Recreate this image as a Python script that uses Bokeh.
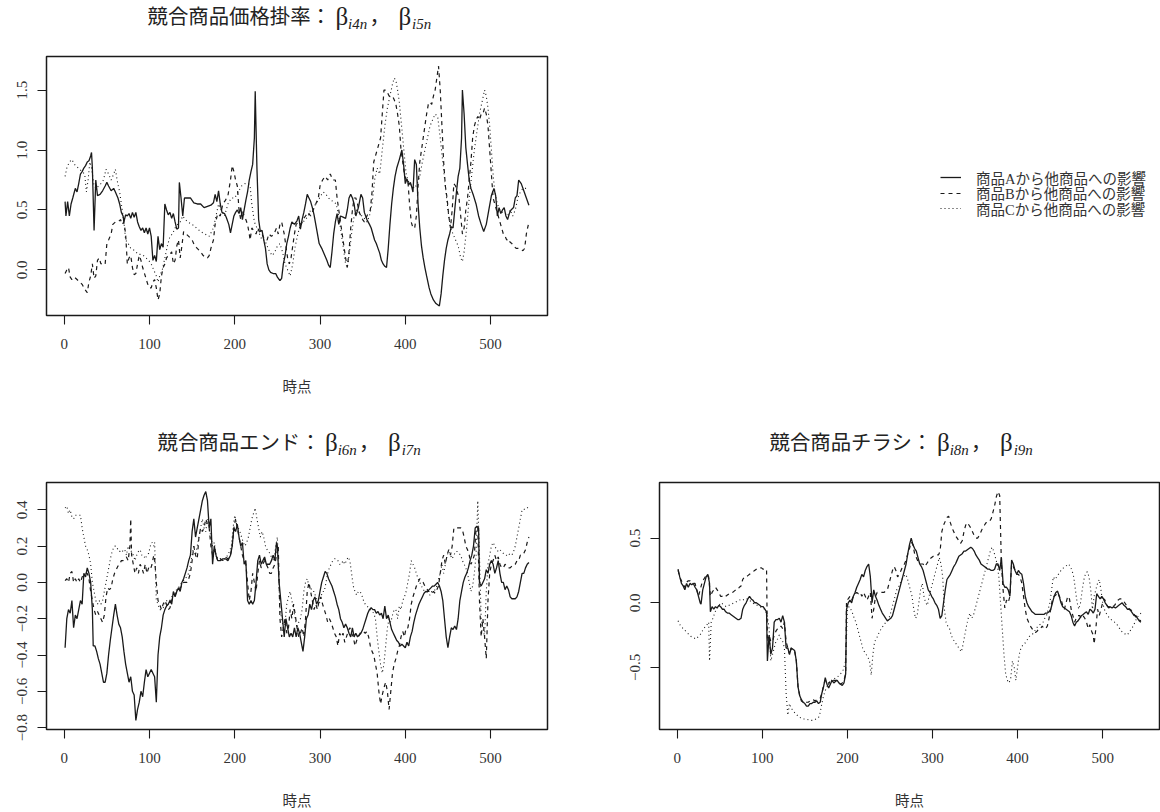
from bokeh.plotting import figure
from bokeh.models import Range1d, FixedTicker, CustomJSTickFormatter, Label, Legend, LegendItem
from bokeh.layouts import column, row
from bokeh.embed import file_html
from bokeh.resources import INLINE

# ---------------- data (time point, value) ----------------
X_TICKS = [0, 100, 200, 300, 400, 500]
PRICE_TICKS = [0.0, 0.5, 1.0, 1.5]
END_TICKS = [-0.8, -0.6, -0.4, -0.2, 0.0, 0.2, 0.4]
FLYER_TICKS = [-0.5, 0.0, 0.5]

TITLE_PRICE = ("競合商品価格掛率：", "i4n", "i5n")
TITLE_END = ("競合商品エンド：", "i6n", "i7n")
TITLE_FLYER = ("競合商品チラシ：", "i8n", "i9n")
X_LABEL = "時点"
LEGEND_LABELS = ["商品Aから他商品への影響", "商品Bから他商品への影響", "商品Cから他商品への影響"]

price_A = [(1,0.57),(2,0.45),(4,0.57),(6,0.45),(8,0.55),(10,0.6),(13,0.68),(15,0.65),(17,0.72),(19,0.8),(21,0.82),(23,0.85),(25,0.87),(27,0.9),(29,0.91),(31,0.95),(32,0.98),(33,0.85),(35,0.33),(37,0.75),(39,0.62),(42,0.63),(45,0.66),(48,0.7),(50,0.73),(52,0.7),(55,0.66),(58,0.68),(60,0.65),(63,0.6),(65,0.55),(67,0.48),(69,0.45),(70,0.4),(72,0.46),(74,0.45),(76,0.47),(78,0.43),(80,0.48),(82,0.44),(84,0.48),(86,0.4),(88,0.36),(90,0.33),(92,0.35),(94,0.31),(96,0.35),(98,0.3),(100,0.35),(102,0.28),(104,0.08),(106,0.12),(108,0.07),(110,0.28),(112,0.17),(114,0.22),(116,0.19),(118,0.55),(120,0.5),(122,0.46),(124,0.48),(126,0.43),(128,0.47),(130,0.4),(132,0.34),(134,0.35),(135,0.73),(137,0.6),(139,0.45),(141,0.6),(144,0.6),(148,0.6),(152,0.56),(156,0.55),(160,0.55),(164,0.52),(168,0.53),(172,0.54),(175,0.56),(177,0.63),(179,0.57),(181,0.66),(183,0.55),(185,0.48),(188,0.47),(190,0.44),(193,0.38),(195,0.31),(197,0.38),(199,0.45),(201,0.48),(203,0.5),(205,0.47),(207,0.52),(209,0.42),(211,0.5),(213,0.58),(215,0.65),(217,0.75),(219,0.82),(221,0.88),(223,1.1),(224,1.49),(226,0.85),(228,0.42),(230,0.32),(232,0.33),(234,0.25),(236,0.18),(238,0.05),(240,0.0),(242,-0.02),(245,-0.03),(248,-0.03),(250,-0.06),(253,-0.09),(255,-0.07),(257,0.05),(259,0.12),(261,0.22),(263,0.28),(265,0.35),(267,0.4),(270,0.38),(273,0.41),(275,0.45),(277,0.34),(279,0.42),(281,0.48),(283,0.55),(285,0.63),(287,0.6),(289,0.57),(291,0.52),(293,0.46),(295,0.38),(297,0.3),(299,0.22),(302,0.18),(305,0.13),(308,0.08),(310,0.04),(312,0.02),(314,0.15),(316,0.3),(318,0.4),(320,0.47),(322,0.38),(324,0.45),(327,0.44),(330,0.43),(332,0.5),(334,0.6),(336,0.63),(338,0.6),(340,0.55),(342,0.45),(345,0.52),(348,0.63),(350,0.6),(352,0.48),(355,0.42),(358,0.38),(360,0.35),(362,0.3),(364,0.25),(366,0.22),(368,0.18),(370,0.14),(372,0.08),(374,0.05),(376,0.03),(378,0.02),(380,0.18),(382,0.38),(384,0.55),(386,0.68),(388,0.78),(390,0.85),(393,0.92),(396,1.0),(398,0.88),(400,0.72),(402,0.76),(404,0.71),(406,0.73),(408,0.68),(409,0.65),(411,0.92),(413,0.88),(415,0.55),(417,0.35),(419,0.2),(421,0.1),(423,0.02),(425,-0.05),(428,-0.15),(430,-0.2),(433,-0.25),(436,-0.28),(438,-0.29),(440,-0.3),(442,-0.2),(444,-0.05),(446,0.08),(448,0.18),(450,0.25),(452,0.3),(454,0.36),(456,0.35),(458,0.5),(460,0.65),(462,0.78),(464,0.85),(466,1.1),(467,1.5),(469,1.3),(471,1.02),(473,0.88),(475,0.75),(477,0.68),(480,0.62),(483,0.55),(486,0.45),(489,0.38),(492,0.32),(495,0.38),(498,0.5),(501,0.62),(504,0.68),(506,0.62),(508,0.45),(510,0.52),(512,0.47),(514,0.5),(516,0.52),(518,0.45),(520,0.42),(522,0.47),(524,0.5),(527,0.52),(529,0.6),(531,0.62),(533,0.75),(536,0.72),(539,0.66),(542,0.6),(545,0.54)]

price_B = [(1,-0.03),(3,0.0),(5,0.02),(7,-0.06),(9,-0.08),(12,-0.06),(15,-0.08),(18,-0.1),(21,-0.12),(24,-0.16),(27,-0.19),(29,-0.1),(31,-0.05),(33,0.05),(35,-0.07),(37,-0.05),(39,0.08),(41,0.1),(43,0.05),(46,0.06),(48,0.05),(50,0.22),(52,0.25),(55,0.3),(57,0.38),(60,0.4),(63,0.4),(66,0.42),(68,0.38),(70,0.4),(72,0.3),(74,0.05),(76,0.1),(78,0.12),(80,0.02),(82,-0.04),(84,-0.03),(86,0.05),(88,0.12),(90,0.08),(92,0.02),(95,-0.05),(98,-0.12),(100,-0.15),(102,-0.15),(104,-0.1),(106,-0.08),(108,-0.15),(110,-0.25),(112,-0.2),(114,-0.05),(116,0.02),(118,0.05),(120,0.1),(122,0.12),(124,0.13),(126,0.15),(128,0.05),(130,0.08),(132,0.2),(134,0.25),(136,0.1),(138,0.2),(140,0.32),(143,0.3),(146,0.28),(150,0.25),(153,0.2),(156,0.18),(160,0.15),(163,0.12),(166,0.1),(168,0.1),(170,0.12),(172,0.18),(175,0.25),(177,0.38),(180,0.47),(183,0.45),(186,0.55),(189,0.58),(192,0.62),(195,0.75),(197,0.87),(199,0.82),(201,0.75),(203,0.7),(205,0.5),(207,0.42),(209,0.5),(211,0.45),(213,0.42),(215,0.38),(217,0.3),(218,0.25),(220,0.35),(222,0.33),(225,0.3),(227,0.35),(230,0.3),(232,0.3),(235,0.25),(238,0.25),(240,0.3),(243,0.28),(246,0.3),(249,0.35),(251,0.3),(253,0.38),(255,0.4),(258,0.3),(260,0.2),(262,0.1),(264,0.05),(266,0.1),(268,0.2),(270,0.3),(272,0.38),(275,0.4),(278,0.38),(280,0.42),(283,0.45),(286,0.48),(289,0.45),(292,0.5),(295,0.55),(298,0.6),(300,0.7),(303,0.75),(306,0.78),(309,0.75),(312,0.8),(315,0.75),(318,0.75),(320,0.6),(322,0.5),(324,0.4),(326,0.3),(328,0.2),(330,0.1),(332,0.02),(334,0.15),(336,0.35),(338,0.5),(340,0.6),(342,0.6),(344,0.55),(346,0.48),(348,0.45),(350,0.42),(352,0.4),(355,0.45),(357,0.48),(359,0.5),(361,0.65),(363,0.9),(365,0.95),(367,1.0),(369,1.05),(371,1.1),(373,1.3),(375,1.5),(377,1.5),(379,1.48),(381,1.45),(383,1.45),(385,1.45),(387,1.42),(389,1.38),(391,1.3),(393,1.2),(395,1.0),(397,0.9),(399,0.8),(401,0.75),(403,0.75),(405,0.55),(407,0.4),(409,0.35),(411,0.35),(413,0.45),(415,0.7),(417,0.9),(419,1.0),(421,1.1),(423,1.2),(425,1.3),(427,1.38),(429,1.4),(431,1.38),(433,1.45),(435,1.5),(437,1.6),(439,1.7),(441,1.5),(443,1.2),(445,0.9),(447,0.7),(449,0.6),(451,0.45),(453,0.35),(455,0.5),(457,0.72),(459,0.7),(461,0.65),(463,0.6),(465,0.45),(467,0.3),(469,0.35),(471,0.5),(473,0.6),(475,0.75),(477,0.9),(479,1.1),(481,1.2),(483,1.25),(485,1.28),(487,1.25),(489,1.3),(491,1.3),(493,1.35),(495,1.3),(497,1.2),(499,1.0),(501,0.8),(503,0.6),(505,0.55),(507,0.5),(509,0.45),(511,0.4),(513,0.35),(515,0.3),(517,0.28),(519,0.25),(521,0.26),(523,0.23),(525,0.22),(527,0.2),(530,0.18),(533,0.18),(536,0.17),(538,0.16),(540,0.18),(542,0.3),(545,0.4)]

price_C = [(1,0.78),(3,0.85),(6,0.9),(9,0.92),(12,0.88),(15,0.86),(18,0.84),(21,0.82),(24,0.8),(26,0.65),(28,0.75),(30,0.9),(32,0.85),(35,0.7),(38,0.68),(40,0.7),(43,0.72),(46,0.75),(49,0.84),(52,0.8),(55,0.75),(58,0.8),(60,0.84),(62,0.75),(65,0.65),(68,0.5),(70,0.4),(72,0.25),(75,0.22),(78,0.18),(81,0.17),(84,0.15),(87,0.13),(90,0.13),(93,0.12),(96,0.1),(99,0.08),(102,0.05),(105,0.0),(108,-0.05),(110,-0.1),(112,-0.05),(115,0.0),(118,0.1),(121,0.2),(124,0.28),(127,0.3),(130,0.35),(133,0.38),(136,0.4),(139,0.45),(142,0.42),(145,0.4),(150,0.38),(155,0.35),(160,0.32),(165,0.3),(170,0.28),(175,0.35),(178,0.45),(181,0.55),(184,0.5),(188,0.45),(192,0.55),(196,0.6),(200,0.6),(204,0.65),(208,0.7),(212,0.72),(216,0.72),(218,0.7),(220,0.55),(223,0.4),(226,0.35),(229,0.3),(232,0.25),(235,0.25),(238,0.2),(241,0.15),(244,0.12),(247,0.15),(250,0.2),(253,0.22),(256,0.15),(259,0.05),(262,0.0),(265,-0.05),(268,0.05),(271,0.2),(274,0.3),(277,0.38),(280,0.4),(283,0.42),(286,0.45),(289,0.5),(292,0.52),(295,0.55),(298,0.58),(301,0.62),(304,0.65),(307,0.63),(310,0.6),(313,0.58),(316,0.57),(319,0.55),(322,0.45),(325,0.3),(328,0.15),(330,0.05),(332,0.02),(334,0.12),(337,0.3),(340,0.45),(343,0.5),(346,0.48),(349,0.45),(352,0.43),(355,0.4),(358,0.45),(361,0.55),(364,0.75),(367,0.85),(370,0.8),(373,1.0),(376,1.2),(379,1.35),(382,1.45),(385,1.55),(387,1.6),(389,1.58),(391,1.5),(393,1.4),(395,1.25),(397,1.1),(399,0.95),(401,0.8),(403,0.75),(405,0.72),(408,0.7),(411,0.68),(414,0.72),(417,0.78),(420,0.9),(423,1.0),(426,1.1),(429,1.2),(432,1.25),(435,1.3),(438,1.28),(441,1.1),(444,0.9),(447,0.7),(450,0.5),(453,0.35),(456,0.3),(459,0.25),(462,0.2),(465,0.1),(467,0.07),(469,0.15),(472,0.35),(475,0.6),(478,0.8),(481,1.0),(484,1.15),(487,1.3),(490,1.4),(493,1.5),(495,1.45),(497,1.35),(499,1.2),(501,1.0),(503,0.8),(505,0.65),(508,0.55),(511,0.5),(514,0.48),(517,0.47),(520,0.45),(523,0.5),(526,0.45),(529,0.5),(532,0.6),(535,0.65),(538,0.68),(541,0.68),(545,0.68)]

end_A = [(1,-0.36),(3,-0.2),(5,-0.15),(7,-0.17),(9,-0.1),(11,-0.25),(13,-0.18),(15,-0.2),(17,-0.15),(19,-0.1),(21,-0.12),(23,0.05),(25,0.03),(27,0.08),(29,0.05),(31,0.0),(33,-0.15),(34,-0.35),(36,-0.35),(38,-0.38),(40,-0.42),(42,-0.45),(44,-0.5),(46,-0.55),(48,-0.55),(50,-0.5),(52,-0.4),(54,-0.32),(56,-0.25),(58,-0.18),(60,-0.12),(62,-0.18),(64,-0.23),(66,-0.25),(68,-0.3),(70,-0.38),(72,-0.45),(74,-0.5),(76,-0.55),(78,-0.52),(80,-0.6),(82,-0.62),(84,-0.76),(86,-0.7),(88,-0.66),(90,-0.6),(92,-0.63),(94,-0.55),(96,-0.48),(98,-0.52),(100,-0.5),(102,-0.48),(104,-0.5),(106,-0.52),(108,-0.66),(110,-0.4),(112,-0.3),(114,-0.25),(116,-0.18),(118,-0.15),(120,-0.13),(122,-0.12),(124,-0.1),(126,-0.12),(128,-0.05),(130,-0.08),(132,-0.05),(134,-0.03),(136,-0.05),(138,0.0),(140,0.02),(142,0.05),(144,0.08),(146,0.12),(148,0.15),(150,0.28),(152,0.35),(154,0.25),(156,0.3),(158,0.35),(160,0.4),(162,0.45),(164,0.48),(166,0.5),(168,0.45),(170,0.3),(172,0.35),(174,0.1),(176,0.2),(178,0.15),(180,0.12),(183,0.12),(186,0.13),(189,0.13),(192,0.12),(195,0.15),(197,0.2),(199,0.3),(201,0.28),(203,0.32),(205,0.25),(207,0.2),(209,0.22),(211,0.1),(213,0.12),(215,-0.1),(217,-0.12),(219,-0.1),(221,-0.12),(223,-0.1),(225,0.0),(227,0.12),(229,0.15),(231,0.1),(233,0.12),(235,0.14),(237,0.1),(239,0.1),(241,0.1),(243,0.12),(245,0.15),(247,0.12),(249,0.22),(250,0.2),(252,0.0),(254,-0.1),(256,-0.2),(258,-0.3),(260,-0.2),(262,-0.25),(264,-0.3),(266,-0.28),(268,-0.3),(270,-0.25),(272,-0.3),(274,-0.25),(276,-0.28),(278,-0.33),(280,-0.38),(282,-0.3),(284,-0.2),(286,-0.18),(288,-0.12),(290,-0.15),(292,-0.1),(294,-0.08),(296,-0.12),(298,-0.1),(300,-0.05),(302,0.0),(304,0.03),(306,0.06),(308,0.05),(310,0.02),(312,0.0),(314,-0.02),(316,-0.05),(318,-0.08),(320,-0.12),(322,-0.15),(324,-0.2),(326,-0.22),(328,-0.25),(330,-0.23),(332,-0.25),(334,-0.28),(336,-0.3),(338,-0.25),(340,-0.3),(342,-0.28),(344,-0.3),(346,-0.29),(348,-0.28),(350,-0.26),(352,-0.23),(354,-0.2),(356,-0.17),(358,-0.15),(360,-0.14),(362,-0.15),(364,-0.15),(366,-0.17),(368,-0.16),(370,-0.18),(372,-0.17),(374,-0.2),(376,-0.13),(378,-0.2),(380,-0.18),(382,-0.22),(384,-0.26),(386,-0.28),(388,-0.3),(390,-0.32),(392,-0.33),(394,-0.35),(396,-0.34),(398,-0.35),(400,-0.36),(402,-0.33),(404,-0.35),(406,-0.3),(408,-0.27),(410,-0.22),(412,-0.18),(414,-0.15),(416,-0.12),(418,-0.1),(420,-0.08),(422,-0.06),(424,-0.05),(426,-0.05),(428,-0.04),(430,-0.03),(432,-0.02),(434,-0.02),(436,-0.01),(438,0.0),(440,-0.02),(442,-0.05),(444,-0.1),(446,-0.2),(448,-0.3),(450,-0.36),(452,-0.3),(454,-0.25),(456,-0.26),(458,-0.24),(460,-0.26),(462,-0.2),(464,-0.1),(466,-0.05),(468,0.0),(470,0.03),(472,0.05),(474,0.08),(476,0.12),(478,0.15),(480,0.2),(482,0.3),(484,0.31),(486,0.3),(487,0.0),(489,-0.02),(491,0.0),(493,0.02),(495,0.07),(497,0.05),(499,0.1),(501,0.12),(503,0.1),(505,0.05),(507,0.08),(509,0.12),(511,0.05),(513,0.0),(515,0.0),(517,-0.04),(519,-0.02),(521,-0.04),(523,-0.08),(525,-0.09),(527,-0.09),(529,-0.09),(531,-0.08),(533,-0.05),(535,0.0),(537,0.05),(539,0.05),(541,0.08),(543,0.1),(545,0.11)]

end_B = [(1,0.01),(3,0.02),(5,0.0),(7,0.05),(9,0.06),(11,0.0),(13,0.02),(15,0.0),(17,0.02),(19,0.0),(21,0.03),(23,0.04),(25,0.05),(27,0.05),(29,0.02),(31,-0.05),(33,-0.1),(35,-0.15),(37,-0.18),(39,-0.16),(41,-0.18),(43,-0.2),(45,-0.22),(47,-0.18),(49,-0.08),(51,-0.03),(53,-0.04),(55,-0.03),(57,0.02),(59,0.05),(61,0.07),(63,0.09),(65,0.1),(67,0.12),(69,0.12),(71,0.13),(73,0.14),(75,0.12),(77,0.2),(78,0.35),(79,0.15),(81,0.1),(83,0.05),(85,0.08),(87,0.05),(89,0.1),(91,0.08),(93,0.05),(95,0.1),(97,0.05),(99,0.08),(101,0.07),(103,0.1),(105,0.15),(106,0.13),(108,0.0),(110,-0.1),(112,-0.12),(114,-0.15),(116,-0.12),(118,-0.1),(120,-0.12),(122,-0.15),(124,-0.14),(126,-0.1),(128,-0.08),(130,-0.07),(132,-0.05),(134,-0.05),(136,-0.03),(138,-0.02),(140,0.0),(142,0.0),(144,0.0),(146,0.02),(148,0.05),(150,0.12),(152,0.2),(154,0.15),(156,0.13),(158,0.25),(160,0.3),(162,0.28),(164,0.3),(166,0.35),(168,0.32),(170,0.3),(172,0.2),(174,0.15),(176,0.18),(178,0.15),(180,0.12),(183,0.13),(186,0.12),(189,0.14),(192,0.13),(195,0.15),(197,0.2),(199,0.3),(201,0.35),(203,0.3),(205,0.25),(207,0.2),(209,0.15),(211,0.12),(213,0.1),(215,0.0),(217,-0.1),(219,-0.05),(221,0.05),(223,0.0),(225,-0.05),(227,0.05),(229,0.12),(231,0.08),(233,0.1),(235,0.12),(237,0.1),(239,0.08),(241,0.05),(243,0.05),(245,0.08),(247,0.1),(249,0.15),(251,0.2),(253,-0.2),(255,-0.3),(257,-0.25),(259,-0.2),(261,-0.28),(263,-0.25),(265,-0.15),(267,-0.2),(269,-0.12),(271,-0.18),(273,-0.25),(275,-0.3),(277,-0.28),(279,-0.25),(281,-0.3),(283,-0.2),(285,-0.05),(287,0.0),(289,-0.05),(291,-0.1),(293,-0.15),(295,-0.12),(297,-0.15),(299,-0.1),(301,-0.08),(303,-0.12),(305,-0.15),(307,-0.18),(309,-0.22),(311,-0.2),(313,-0.22),(315,-0.25),(317,-0.28),(319,-0.3),(321,-0.35),(323,-0.28),(325,-0.3),(327,-0.28),(329,-0.33),(331,-0.3),(333,-0.27),(335,-0.25),(337,-0.28),(339,-0.3),(341,-0.35),(343,-0.32),(345,-0.3),(347,-0.28),(349,-0.27),(351,-0.27),(353,-0.28),(355,-0.27),(357,-0.3),(359,-0.35),(361,-0.38),(363,-0.4),(365,-0.45),(367,-0.5),(369,-0.6),(371,-0.67),(373,-0.62),(375,-0.58),(377,-0.55),(379,-0.6),(381,-0.7),(383,-0.6),(385,-0.5),(387,-0.45),(389,-0.42),(391,-0.38),(393,-0.35),(395,-0.3),(397,-0.27),(399,-0.3),(401,-0.25),(403,-0.25),(405,-0.2),(407,-0.12),(409,-0.08),(411,-0.05),(413,-0.02),(415,0.0),(417,0.02),(419,0.01),(421,0.0),(423,-0.02),(425,-0.03),(427,-0.05),(429,-0.05),(431,-0.06),(433,-0.05),(435,-0.06),(437,-0.04),(439,-0.02),(441,0.05),(443,0.12),(445,0.15),(447,0.1),(449,0.15),(451,0.18),(453,0.15),(455,0.2),(457,0.3),(459,0.3),(461,0.3),(463,0.3),(465,0.3),(467,0.29),(469,0.25),(471,0.2),(473,0.18),(475,0.15),(477,0.1),(479,0.12),(481,0.15),(483,0.3),(485,0.3),(487,-0.1),(489,-0.3),(491,-0.2),(493,-0.3),(495,-0.42),(497,-0.1),(499,0.05),(501,0.1),(503,0.12),(505,0.15),(507,0.12),(509,0.14),(511,0.1),(513,0.08),(515,0.08),(517,0.1),(519,0.09),(521,0.08),(523,0.08),(525,0.09),(527,0.09),(529,0.1),(531,0.12),(533,0.12),(535,0.15),(537,0.15),(539,0.16),(541,0.18),(543,0.22),(545,0.25)]

end_C = [(1,0.41),(3,0.42),(5,0.38),(7,0.4),(9,0.36),(11,0.35),(13,0.37),(15,0.37),(17,0.37),(19,0.37),(21,0.3),(23,0.25),(25,0.2),(27,0.18),(29,0.15),(31,0.1),(33,0.0),(35,-0.05),(37,-0.1),(39,-0.12),(41,-0.1),(43,-0.12),(45,-0.1),(47,-0.05),(49,0.0),(51,0.05),(53,0.1),(55,0.15),(57,0.18),(59,0.2),(61,0.2),(63,0.18),(65,0.17),(67,0.18),(69,0.17),(71,0.18),(73,0.15),(75,0.2),(77,0.18),(79,0.17),(81,0.15),(83,0.12),(85,0.15),(87,0.17),(89,0.18),(91,0.15),(93,0.15),(95,0.13),(97,0.15),(99,0.16),(101,0.2),(103,0.22),(105,0.2),(106,0.22),(108,-0.1),(110,-0.12),(112,-0.15),(114,-0.15),(116,-0.14),(118,-0.12),(120,-0.1),(122,-0.12),(124,-0.1),(126,-0.08),(130,-0.05),(134,-0.03),(138,0.0),(142,0.02),(146,0.05),(150,0.15),(152,0.2),(154,0.15),(156,0.2),(158,0.25),(160,0.3),(162,0.35),(164,0.3),(166,0.28),(168,0.35),(170,0.3),(172,0.25),(174,0.2),(176,0.22),(178,0.15),(180,0.13),(184,0.13),(188,0.13),(192,0.15),(196,0.2),(198,0.3),(200,0.37),(202,0.33),(204,0.3),(206,0.28),(208,0.25),(210,0.22),(212,0.2),(214,0.22),(216,0.25),(218,0.3),(220,0.35),(222,0.38),(224,0.41),(226,0.35),(228,0.3),(230,0.25),(232,0.28),(234,0.25),(236,0.2),(238,0.18),(240,0.17),(242,0.15),(244,0.13),(246,0.12),(248,0.2),(250,0.25),(251,0.1),(253,-0.15),(255,-0.2),(257,-0.25),(259,-0.22),(261,-0.12),(263,-0.08),(265,-0.05),(267,-0.1),(269,-0.15),(271,-0.2),(273,-0.25),(275,-0.22),(277,-0.2),(279,-0.15),(281,-0.05),(283,0.0),(285,0.02),(287,-0.02),(289,-0.03),(291,-0.05),(293,-0.05),(295,-0.08),(297,-0.1),(299,-0.12),(301,-0.08),(303,-0.05),(305,-0.05),(307,0.0),(309,0.05),(311,0.08),(313,0.1),(315,0.12),(317,0.13),(319,0.13),(321,0.12),(323,0.1),(325,0.1),(327,0.12),(329,0.1),(331,0.12),(333,0.14),(335,0.12),(337,0.05),(339,-0.02),(341,-0.05),(343,-0.07),(345,-0.05),(347,-0.05),(349,-0.07),(351,-0.1),(353,-0.12),(355,-0.13),(357,-0.14),(359,-0.15),(361,-0.16),(363,-0.17),(365,-0.2),(367,-0.3),(369,-0.38),(371,-0.45),(373,-0.5),(375,-0.45),(377,-0.35),(379,-0.25),(381,-0.2),(383,-0.22),(385,-0.18),(387,-0.15),(389,-0.15),(391,-0.2),(393,-0.13),(395,-0.15),(397,-0.1),(399,-0.08),(401,-0.05),(403,0.0),(405,0.05),(407,0.12),(409,0.1),(411,0.08),(413,0.05),(415,0.02),(417,0.0),(419,-0.02),(421,-0.04),(423,-0.05),(425,-0.05),(427,-0.06),(429,-0.07),(431,-0.05),(433,-0.05),(435,-0.04),(437,-0.02),(439,0.02),(441,0.05),(443,0.1),(445,0.05),(447,0.1),(449,0.15),(451,0.17),(453,0.15),(455,0.13),(457,0.15),(459,0.17),(461,0.17),(463,0.16),(465,0.15),(467,0.12),(469,0.1),(471,0.08),(473,0.05),(475,0.0),(477,-0.05),(479,-0.02),(481,0.05),(483,0.15),(485,0.45),(487,0.15),(489,-0.2),(491,-0.25),(493,-0.3),(495,-0.05),(497,0.1),(499,0.15),(501,0.2),(503,0.22),(505,0.2),(507,0.18),(509,0.17),(511,0.18),(513,0.17),(515,0.16),(517,0.15),(519,0.15),(521,0.16),(523,0.15),(525,0.15),(527,0.17),(529,0.2),(531,0.25),(533,0.3),(535,0.35),(537,0.4),(539,0.4),(541,0.41),(543,0.41),(545,0.42)]

flyer_A = [(1,0.26),(3,0.2),(5,0.15),(7,0.13),(9,0.1),(11,0.15),(13,0.12),(15,0.15),(17,0.14),(19,0.15),(21,0.12),(23,0.1),(25,0.05),(27,0.0),(28,-0.01),(30,0.1),(32,0.15),(34,0.2),(36,0.22),(38,0.15),(39,-0.07),(41,-0.03),(43,-0.05),(45,-0.03),(47,-0.04),(49,-0.02),(51,-0.03),(53,-0.05),(55,-0.05),(57,-0.07),(59,-0.08),(61,-0.08),(63,-0.09),(65,-0.1),(67,-0.11),(69,-0.12),(71,-0.13),(73,-0.13),(75,-0.12),(77,-0.05),(79,-0.02),(81,0.0),(83,0.03),(85,0.05),(87,0.03),(89,0.02),(91,0.0),(93,0.0),(95,-0.01),(97,-0.02),(99,-0.03),(101,-0.03),(103,-0.05),(105,-0.07),(106,-0.45),(108,-0.25),(110,-0.4),(112,-0.35),(114,-0.15),(116,-0.13),(118,-0.13),(120,-0.12),(122,-0.15),(124,-0.1),(126,-0.15),(128,-0.35),(130,-0.35),(132,-0.4),(134,-0.35),(136,-0.36),(138,-0.37),(140,-0.45),(142,-0.65),(144,-0.72),(146,-0.75),(148,-0.77),(150,-0.78),(152,-0.8),(154,-0.8),(156,-0.78),(158,-0.78),(160,-0.77),(162,-0.77),(164,-0.76),(166,-0.78),(168,-0.77),(170,-0.7),(172,-0.65),(174,-0.58),(176,-0.63),(178,-0.66),(180,-0.63),(182,-0.6),(184,-0.62),(186,-0.61),(188,-0.6),(190,-0.62),(192,-0.63),(194,-0.64),(196,-0.62),(198,-0.55),(199,-0.05),(201,0.0),(203,0.02),(205,0.0),(207,0.05),(209,0.08),(211,0.12),(213,0.15),(215,0.18),(217,0.22),(219,0.2),(221,0.25),(223,0.28),(225,0.3),(227,0.2),(229,0.0),(231,0.1),(233,0.05),(235,0.02),(237,-0.02),(239,-0.05),(241,-0.08),(243,-0.1),(245,-0.12),(247,-0.14),(249,-0.13),(251,-0.12),(253,-0.1),(255,-0.05),(257,0.0),(259,0.05),(261,0.1),(263,0.15),(265,0.2),(267,0.25),(269,0.3),(271,0.38),(273,0.45),(275,0.5),(277,0.45),(279,0.42),(281,0.4),(283,0.35),(285,0.3),(287,0.28),(289,0.25),(291,0.2),(293,0.15),(295,0.1),(297,0.08),(299,0.05),(301,0.03),(303,0.0),(305,-0.02),(307,-0.05),(309,-0.12),(311,-0.1),(313,0.0),(315,0.1),(317,0.18),(319,0.2),(321,0.22),(323,0.25),(325,0.28),(327,0.3),(329,0.33),(331,0.36),(333,0.37),(335,0.38),(337,0.4),(339,0.4),(341,0.41),(343,0.42),(345,0.43),(347,0.42),(349,0.4),(351,0.37),(353,0.35),(355,0.33),(357,0.3),(359,0.29),(361,0.28),(363,0.27),(365,0.26),(367,0.26),(369,0.25),(371,0.25),(373,0.26),(375,0.3),(377,0.3),(379,0.25),(381,0.35),(383,0.15),(385,0.12),(387,0.12),(389,0.1),(391,0.05),(393,0.33),(395,0.3),(397,0.25),(399,0.22),(401,0.25),(403,0.23),(405,0.22),(407,0.15),(409,0.05),(411,0.0),(413,-0.03),(415,-0.05),(417,-0.07),(419,-0.08),(421,-0.09),(423,-0.09),(425,-0.09),(427,-0.09),(429,-0.09),(431,-0.09),(433,-0.08),(435,-0.08),(437,-0.07),(439,-0.05),(441,0.0),(443,0.05),(445,0.08),(447,0.09),(449,0.05),(451,0.0),(453,-0.03),(455,-0.04),(457,-0.05),(459,-0.06),(461,-0.07),(463,-0.1),(465,-0.15),(467,-0.18),(469,-0.15),(471,-0.14),(473,-0.12),(475,-0.1),(477,-0.09),(479,-0.08),(481,-0.07),(483,-0.09),(485,-0.05),(487,-0.06),(489,-0.08),(491,-0.05),(493,0.07),(495,0.05),(497,0.03),(499,0.05),(501,0.03),(503,0.0),(505,-0.02),(507,-0.04),(509,-0.03),(511,-0.04),(513,-0.03),(515,-0.04),(517,-0.03),(519,-0.02),(521,-0.01),(523,0.0),(525,-0.02),(527,-0.03),(529,-0.05),(531,-0.05),(533,-0.06),(535,-0.08),(537,-0.1),(539,-0.1),(541,-0.12),(543,-0.14),(545,-0.15)]

flyer_B = [(1,0.25),(3,0.2),(5,0.17),(7,0.14),(9,0.12),(11,0.16),(13,0.17),(15,0.17),(17,0.16),(19,0.15),(21,0.15),(23,0.1),(25,0.05),(27,0.1),(29,0.15),(31,0.18),(33,0.2),(35,0.22),(37,0.2),(39,0.05),(41,0.08),(43,0.1),(45,0.12),(47,0.1),(49,0.08),(51,0.05),(53,0.05),(55,0.04),(57,0.05),(59,0.06),(61,0.07),(63,0.08),(65,0.08),(67,0.09),(69,0.1),(71,0.1),(73,0.12),(75,0.13),(77,0.18),(79,0.2),(81,0.2),(83,0.21),(85,0.22),(87,0.23),(89,0.24),(91,0.25),(93,0.26),(95,0.27),(97,0.27),(99,0.27),(101,0.26),(103,0.26),(105,0.26),(106,-0.3),(108,-0.25),(110,-0.3),(112,-0.3),(114,-0.25),(116,-0.22),(118,-0.2),(120,-0.2),(122,-0.18),(124,-0.2),(126,-0.15),(128,-0.3),(130,-0.35),(132,-0.4),(134,-0.35),(136,-0.37),(138,-0.37),(140,-0.45),(142,-0.65),(144,-0.72),(146,-0.76),(148,-0.77),(150,-0.78),(152,-0.77),(154,-0.77),(156,-0.76),(158,-0.75),(160,-0.75),(162,-0.76),(164,-0.75),(166,-0.75),(168,-0.74),(170,-0.7),(172,-0.64),(174,-0.6),(176,-0.63),(178,-0.63),(180,-0.6),(182,-0.6),(184,-0.6),(186,-0.6),(188,-0.6),(190,-0.62),(192,-0.63),(194,-0.62),(196,-0.6),(198,-0.55),(199,0.02),(201,0.03),(203,0.05),(205,0.02),(207,0.05),(209,0.07),(211,0.08),(213,0.07),(215,0.08),(217,0.05),(219,0.08),(221,0.05),(223,0.02),(225,0.05),(227,0.08),(229,-0.12),(231,-0.05),(233,0.05),(235,0.08),(237,0.08),(239,0.08),(241,0.08),(243,0.08),(245,0.09),(247,0.1),(249,0.15),(251,0.2),(253,0.25),(255,0.28),(257,0.25),(259,0.2),(261,0.22),(263,0.25),(265,0.28),(267,0.3),(269,0.33),(271,0.38),(273,0.42),(275,0.47),(277,0.45),(279,0.38),(281,0.35),(283,0.32),(285,0.3),(287,0.3),(289,0.3),(291,0.28),(293,0.3),(295,0.32),(297,0.34),(299,0.35),(301,0.36),(303,0.36),(305,0.37),(307,0.37),(309,0.4),(311,0.55),(313,0.6),(315,0.63),(317,0.66),(319,0.67),(321,0.62),(323,0.58),(325,0.55),(327,0.52),(329,0.5),(331,0.48),(333,0.46),(335,0.48),(337,0.55),(339,0.6),(341,0.62),(343,0.6),(345,0.58),(347,0.55),(349,0.52),(351,0.5),(353,0.5),(355,0.52),(357,0.55),(359,0.58),(361,0.6),(363,0.62),(365,0.62),(367,0.63),(369,0.65),(371,0.7),(373,0.75),(375,0.82),(377,0.86),(379,0.83),(381,0.3),(383,0.1),(385,-0.04),(387,0.02),(389,0.0),(391,0.05),(393,0.3),(395,0.28),(397,0.25),(399,0.22),(401,0.22),(403,0.2),(405,0.15),(407,0.05),(409,-0.05),(411,-0.12),(413,-0.15),(415,-0.18),(417,-0.2),(419,-0.22),(421,-0.23),(423,-0.22),(425,-0.2),(427,-0.2),(429,-0.18),(431,-0.2),(433,-0.2),(435,-0.18),(437,-0.12),(439,-0.05),(441,0.03),(443,0.05),(445,0.06),(447,0.08),(449,0.05),(451,0.03),(453,-0.02),(455,-0.05),(457,0.0),(459,0.05),(461,0.03),(463,-0.05),(465,-0.1),(467,-0.15),(469,-0.12),(471,-0.1),(473,-0.1),(475,-0.12),(477,-0.1),(479,-0.12),(481,-0.15),(483,-0.2),(485,-0.17),(487,-0.22),(489,-0.25),(490,-0.32),(492,-0.2),(494,-0.05),(496,-0.1),(498,-0.05),(500,0.0),(502,0.03),(504,0.0),(506,-0.03),(508,-0.03),(510,-0.02),(512,-0.03),(514,-0.02),(516,0.0),(518,0.02),(520,0.03),(522,0.03),(524,0.02),(526,0.0),(528,-0.02),(530,-0.04),(532,-0.05),(534,-0.06),(536,-0.08),(538,-0.1),(540,-0.12),(542,-0.13),(545,-0.14)]

flyer_C = [(1,-0.14),(4,-0.18),(7,-0.2),(10,-0.22),(13,-0.24),(16,-0.26),(19,-0.27),(22,-0.28),(25,-0.26),(28,-0.24),(31,-0.2),(34,-0.18),(37,-0.15),(38,-0.45),(40,-0.15),(42,-0.12),(44,-0.08),(46,-0.05),(49,-0.02),(52,0.0),(55,-0.02),(58,-0.03),(61,-0.02),(64,-0.01),(67,0.0),(70,0.01),(73,0.02),(76,0.03),(79,0.02),(82,0.03),(85,0.02),(88,0.0),(91,-0.01),(94,-0.02),(97,-0.03),(100,-0.04),(103,-0.05),(106,-0.1),(108,-0.2),(110,-0.45),(112,-0.4),(114,-0.35),(116,-0.3),(118,-0.28),(120,-0.25),(122,-0.28),(124,-0.3),(126,-0.35),(128,-0.7),(130,-0.87),(132,-0.78),(134,-0.82),(136,-0.83),(138,-0.85),(140,-0.86),(142,-0.88),(145,-0.89),(148,-0.9),(152,-0.9),(156,-0.91),(160,-0.91),(163,-0.9),(166,-0.89),(168,-0.85),(170,-0.78),(172,-0.72),(174,-0.68),(176,-0.65),(178,-0.62),(180,-0.6),(183,-0.6),(186,-0.58),(189,-0.57),(192,-0.55),(195,-0.52),(198,-0.45),(200,-0.05),(202,-0.03),(204,-0.05),(206,-0.08),(208,-0.12),(210,-0.15),(212,-0.2),(214,-0.25),(216,-0.3),(218,-0.35),(220,-0.38),(222,-0.4),(224,-0.42),(226,-0.45),(228,-0.56),(230,-0.4),(232,-0.3),(234,-0.28),(236,-0.25),(238,-0.22),(240,-0.2),(242,-0.18),(244,-0.16),(246,-0.15),(248,-0.13),(250,-0.1),(252,-0.05),(254,0.0),(256,0.05),(258,0.1),(260,0.12),(262,0.15),(264,0.18),(266,0.2),(268,0.22),(270,0.2),(272,0.15),(274,0.1),(276,0.05),(278,-0.05),(280,-0.12),(282,-0.1),(284,0.0),(286,0.1),(288,0.15),(290,0.05),(292,0.0),(294,-0.02),(296,0.05),(298,0.1),(300,0.15),(302,0.2),(304,0.25),(306,0.3),(308,0.35),(310,0.3),(312,0.2),(314,-0.05),(316,-0.15),(318,-0.18),(320,-0.2),(322,-0.25),(324,-0.28),(326,-0.3),(328,-0.32),(330,-0.34),(332,-0.36),(334,-0.38),(336,-0.32),(338,-0.25),(340,-0.18),(342,-0.12),(344,-0.08),(346,-0.12),(348,-0.1),(350,-0.05),(352,0.0),(354,0.05),(356,0.1),(358,0.15),(360,0.2),(362,0.25),(364,0.3),(366,0.35),(368,0.4),(370,0.43),(372,0.4),(374,0.35),(376,0.3),(378,0.2),(380,0.0),(382,-0.2),(384,-0.4),(386,-0.55),(388,-0.6),(390,-0.62),(392,-0.58),(394,-0.45),(396,-0.5),(398,-0.6),(400,-0.5),(402,-0.4),(404,-0.35),(406,-0.33),(408,-0.32),(410,-0.3),(412,-0.28),(414,-0.26),(416,-0.25),(418,-0.24),(420,-0.22),(422,-0.2),(424,-0.18),(426,-0.17),(428,-0.16),(430,-0.15),(432,-0.12),(434,-0.1),(436,-0.05),(438,0.0),(440,0.1),(442,0.2),(444,0.18),(446,0.2),(448,0.22),(450,0.24),(452,0.26),(454,0.27),(456,0.28),(458,0.29),(460,0.3),(462,0.28),(464,0.25),(466,0.2),(468,0.1),(470,0.0),(472,-0.05),(474,0.0),(476,0.1),(478,0.18),(480,0.23),(482,0.24),(484,0.2),(486,0.1),(488,-0.05),(490,0.05),(492,0.1),(494,0.15),(496,0.18),(498,0.1),(500,0.0),(502,-0.05),(504,-0.08),(506,-0.1),(508,-0.12),(510,-0.13),(512,-0.14),(514,-0.15),(516,-0.16),(518,-0.18),(520,-0.2),(522,-0.22),(524,-0.23),(526,-0.24),(528,-0.25),(530,-0.24),(532,-0.22),(534,-0.2),(536,-0.18),(538,-0.15),(540,-0.12),(542,-0.1),(545,-0.08)]

# ---------------- styling ----------------
SERIF = "Liberation Serif"
CJK = "Noto Sans CJK JP"
LEGEND_FONT = "'Liberation Serif', 'Noto Sans CJK JP'"
INK = "#1a1a1a"
STYLES = [dict(line_dash="solid", line_width=1.3),
          dict(line_dash="4 4", line_width=1.2),
          dict(line_dash="1 3", line_width=1.1)]


def xy(pairs):
    return [p[0] for p in pairs], [p[1] for p in pairs]


def data_range(series):
    ys = [v for s in series for _, v in s]
    lo, hi = min(ys), max(ys)
    pad = (hi - lo) * 0.04
    return lo - pad, hi + pad


def blank_fig(width, height, xr=None):
    f = figure(width=width, height=height, output_backend="svg", toolbar_location=None,
               x_range=xr or Range1d(0, width), y_range=Range1d(0, height), min_border=0,
               x_axis_location=None, y_axis_location=None)
    f.grid.visible = False
    f.outline_line_color = None
    f.background_fill_color = "white"
    f.border_fill_color = "white"
    return f


def title_fig(width, height, title, x0):
    # x0 is measured from the left edge of the panel frame below (frames are aligned in a column)
    f = blank_fig(width, height)
    main, s1, s2 = title
    mw = 20.4 * len(main)
    parts = [
        (main, x0, 38, CJK, "20.4px", "normal"),
        ("β", x0 + mw + 4.4, 36.5, SERIF, "25px", "normal"),
        (s1, x0 + mw + 17.0, 28.5, SERIF, "15px", "italic"),
        ("，", x0 + mw + 38.4, 38, CJK, "20.4px", "normal"),
        ("β", x0 + mw + 67.4, 36.5, SERIF, "25px", "normal"),
        (s2, x0 + mw + 81.0, 28.5, SERIF, "15px", "italic"),
    ]
    for txt, lx, ly, font, size, style in parts:
        f.add_layout(Label(x=lx, y=ly, x_units="screen", y_units="screen", text=txt,
                           text_font=font, text_font_size=size, text_font_style=style,
                           text_color="#222222", text_align="left", text_baseline="alphabetic"))
    return f


def make_panel(width, height, b_left, b_right, b_top, b_bottom, series, yticks, label_standoff):
    lo, hi = data_range(series)
    p = figure(width=width, height=height, output_backend="svg", toolbar_location=None,
               x_range=Range1d(-20.8, 566.8), y_range=Range1d(lo, hi),
               min_border_left=b_left, min_border_right=b_right,
               min_border_top=b_top, min_border_bottom=b_bottom)
    p.grid.visible = False
    p.background_fill_color = "white"
    p.border_fill_color = "white"
    p.outline_line_color = INK
    p.outline_line_width = 1.5
    p.xaxis.ticker = FixedTicker(ticks=X_TICKS)
    p.yaxis.ticker = FixedTicker(ticks=yticks)
    p.yaxis.formatter = CustomJSTickFormatter(code="return tick.toFixed(1).replace('-', '\u2212');")
    for ax in (p.xaxis[0], p.yaxis[0]):
        ax.axis_line_color = None
        ax.major_tick_out = 9
        ax.major_tick_in = 0
        ax.minor_tick_out = 0
        ax.minor_tick_in = 0
        ax.major_tick_line_color = INK
        ax.major_tick_line_width = 1.1
        ax.major_label_text_font = SERIF
        ax.major_label_text_font_size = "15px"
        ax.major_label_text_color = "#333333"
    p.xaxis.major_label_standoff = 14
    p.yaxis.major_label_standoff = 10
    p.yaxis.major_label_orientation = "vertical"
    p.xaxis.axis_label = X_LABEL
    p.xaxis.axis_label_text_font = CJK
    p.xaxis.axis_label_text_font_size = "14.5px"
    p.xaxis.axis_label_text_font_style = "normal"
    p.xaxis.axis_label_text_color = "#333333"
    p.xaxis.axis_label_standoff = label_standoff

    rends = []
    for s, st in zip(series, STYLES):
        xs, ys = xy(s)
        rends.append(p.line(xs, ys, line_color=INK, **st))
    return p, rends


# top row: price panel + legend area
t1 = title_fig(605, 52, TITLE_PRICE, 101)
p1, r1 = make_panel(605, 374, 46, 58, 4, 111, [price_A, price_B, price_C], PRICE_TICKS, 23)

# legend area: the same three series drawn outside the visible range, used only for legend keys
leg_fig = blank_fig(555, 426, xr=Range1d(10000, 10555))
LEGEND_ROW_Y = [238.5, 223, 207.5]
for lab, s, st, vy in zip(LEGEND_LABELS, [price_A, price_B, price_C], STYLES, LEGEND_ROW_Y):
    xs, ys = xy(s)
    r = leg_fig.line(xs, ys, line_color=INK, **st)
    lg = Legend(items=[LegendItem(label=lab, renderers=[r])], location=(335, vy),
                orientation="vertical", border_line_color=None, background_fill_alpha=0,
                glyph_width=21, glyph_height=16, label_height=16, spacing=0,
                padding=0, margin=0, label_standoff=15,
                label_text_font=LEGEND_FONT, label_text_font_size="14.5px",
                label_text_color="#333333")
    leg_fig.add_layout(lg)

# bottom row
t2 = title_fig(605, 52, TITLE_END, 111)
p2, _ = make_panel(605, 334, 46, 58, 4, 72, [end_A, end_B, end_C], END_TICKS, 23)
t3 = title_fig(555, 52, TITLE_FLYER, 110)
p3, _ = make_panel(555, 334, 54, 1, 4, 72, [flyer_A, flyer_B, flyer_C], FLYER_TICKS, 23)

layout = column(row(column(t1, p1), leg_fig), row(column(t2, p2), column(t3, p3)))
open("out.html", "w").write(file_html(layout, INLINE))
